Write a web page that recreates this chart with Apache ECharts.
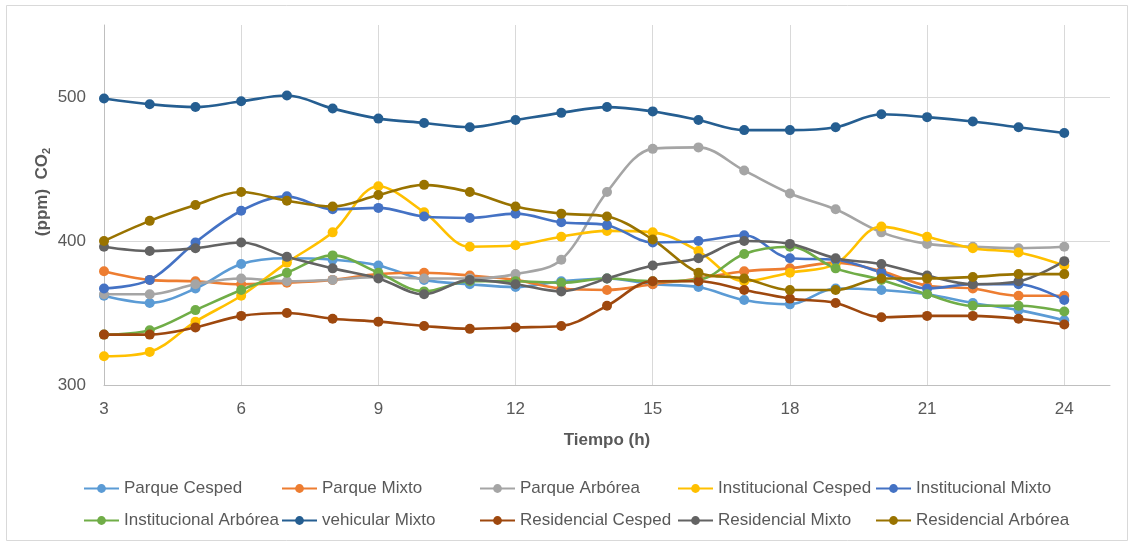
<!DOCTYPE html>
<html>
<head>
<meta charset="utf-8">
<script src="https://cdn.jsdelivr.net/npm/echarts@6/dist/echarts.min.js"></script>
<style>
html,body{margin:0;padding:0;background:#fff;}
#c{width:1133px;height:546px;}
</style>
</head>
<body>
<div id="c"></div>
<script>
const hours = [3,4,5,6,7,8,9,10,11,12,13,14,15,16,17,18,19,20,21,22,23,24];
const seriesNames = ['Parque Cesped','Parque Mixto','Parque Arbórea','Institucional Cesped','Institucional Mixto','Institucional Arbórea','vehicular Mixto','Residencial Cesped','Residencial Mixto','Residencial Arbórea'];
const parqueCesped = [362,357,367,384,388,387,383,373,370,368,372,374,370,368,359,356,367,366,363,357,352,345];
const parqueMixto = [379,373,372,370,371,373,377,378,376,373,367,366,370,374,379,381,385,379,369,367,362,362];
const parqueArborea = [363,363,370,374,372,373,375,374,374,377,387,434,464,465,449,433,422,406,398,396,395,396];
const institucionalCesped = [320,323,344,362,385,406,438,420,396,397,403,407,406,393,372,378,384,410,403,395,392,383];
const institucionalMixto = [367,373,399,421,431,422,423,417,416,419,413,411,399,400,404,388,387,378,367,370,370,359];
const institucionalArborea = [335,338,352,366,378,390,378,365,372,372,371,374,372,373,391,396,381,373,363,355,355,351];
const vehicularMixto = [499,495,493,497,501,492,485,482,479,484,489,493,490,484,477,477,479,488,486,483,479,475];
const residencialCesped = [335,335,340,348,350,346,344,341,339,340,341,355,372,372,366,360,357,347,348,348,346,342];
const residencialMixto = [396,393,395,399,389,381,374,363,373,370,365,374,383,388,400,398,388,384,376,370,372,386];
const residencialArborea = [400,414,425,434,428,424,432,439,434,424,419,417,401,378,374,366,366,374,374,375,377,377];

const allValues = [parqueCesped,parqueMixto,parqueArborea,institucionalCesped,institucionalMixto,institucionalArborea,vehicularMixto,residencialCesped,residencialMixto,residencialArborea];
const colors = ['#5B9BD5','#ED7D31','#A5A5A5','#FFC000','#4472C4','#70AD47','#255E91','#9E480E','#636363','#997300'];

const textColor = '#595959';
const font = '"Liberation Sans", Arial, sans-serif';

const series = seriesNames.map((name, i) => ({
  name: name,
  type: 'line',
  smooth: 0.35,
  symbol: 'circle',
  symbolSize: 10,
  showSymbol: true,
  data: hours.map((h, j) => [h, allValues[i][j]]),
  lineStyle: { width: 2.6, color: colors[i] },
  itemStyle: { color: colors[i] },
  emphasis: { disabled: true },
  animation: false
}));

const legends = seriesNames.map((name, i) => ({
  data: [name],
  left: 83 + (i % 5) * 198,
  top: i < 5 ? 480 : 512,
  itemWidth: 35,
  itemHeight: 11,
  itemGap: 0,
  padding: 0,
  textStyle: { color: textColor, fontSize: 17, fontFamily: font },
  selectedMode: false
}));

const chart = echarts.init(document.getElementById('c'), null, { renderer: 'canvas' });
chart.setOption({
  backgroundColor: '#ffffff',
  color: colors,
  animation: false,
  textStyle: { fontFamily: font },
  graphic: [{
    type: 'rect',
    shape: { x: 6.5, y: 5.5, width: 1121, height: 535 },
    style: { fill: 'none', stroke: '#D9D9D9', lineWidth: 1 },
    silent: true
  }],
  legend: legends,
  grid: { left: 104, right: 23, top: 25, bottom: 161, containLabel: false },
  xAxis: {
    type: 'value',
    min: 3,
    max: 25,
    interval: 3,
    name: 'Tiempo (h)',
    nameLocation: 'middle',
    nameGap: 47,
    nameMoveOverlap: false,
    nameTextStyle: { color: textColor, fontSize: 17, fontWeight: 'bold', fontFamily: font },
    axisLine: { show: true, lineStyle: { color: '#BFBFBF', width: 1 } },
    axisTick: { show: false },
    axisLabel: { color: textColor, fontSize: 17, margin: 16, showMaxLabel: false, fontFamily: font },
    splitLine: { show: true, showMaxLine: false, lineStyle: { color: '#D9D9D9', width: 1 } }
  },
  yAxis: {
    type: 'value',
    min: 300,
    max: 550,
    interval: 100,
    name: '{a|(ppm)  CO}{s|2}',
    nameLocation: 'middle',
    nameRotate: 90,
    nameGap: 52,
    nameMoveOverlap: false,
    nameTextStyle: {
      color: textColor, fontSize: 17, fontWeight: 'bold', fontFamily: font,
      padding: [0, 0, 0, 26],
      rich: {
        a: { color: textColor, fontSize: 17, fontWeight: 'bold', fontFamily: font },
        s: { color: textColor, fontSize: 11, fontWeight: 'bold', fontFamily: font, verticalAlign: 'bottom', padding: [8, 0, 0, 0] }
      }
    },
    axisLine: { show: true, lineStyle: { color: '#BFBFBF', width: 1 } },
    axisTick: { show: false },
    axisLabel: { color: textColor, fontSize: 17, margin: 18, showMaxLabel: false, fontFamily: font },
    splitLine: { show: true, showMaxLine: false, showMinLine: false, lineStyle: { color: '#D9D9D9', width: 1 } }
  },
  series: series
});
</script>
</body>
</html>
